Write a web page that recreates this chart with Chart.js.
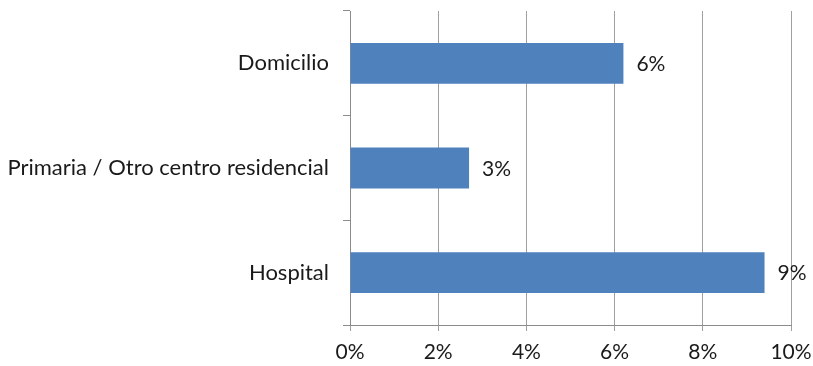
<!DOCTYPE html>
<html>
<head>
<meta charset="utf-8">
<script src="https://cdn.jsdelivr.net/npm/chart.js@4/dist/chart.umd.min.js"></script>
<style>
html,body{margin:0;padding:0;background:#fff;}
#wrap{width:813px;height:366px;position:relative;}
</style>
</head>
<body>
<div id="wrap"><canvas id="c" width="813" height="366"></canvas></div>
<script>
const categories = ["Domicilio", "Primaria / Otro centro residencial", "Hospital"];
const values = [6.2, 2.7, 9.4];
const valueLabels = ["6%", "3%", "9%"];
const xTicks = [0, 2, 4, 6, 8, 10];

const FONT = "Lato, 'Open Sans', sans-serif";

const labelPlugin = {
  id: 'barLabels',
  afterDatasetsDraw(chart) {
    const ctx = chart.ctx;
    const meta = chart.getDatasetMeta(0);
    ctx.save();
    ctx.font = "21px " + FONT;
    ctx.fillStyle = "#1a1a1a";
    ctx.textAlign = "left";
    ctx.textBaseline = "middle";
    meta.data.forEach((bar, i) => {
      ctx.fillText(valueLabels[i], bar.x + 13, bar.y + 1);
    });
    ctx.restore();
  }
};

new Chart(document.getElementById('c'), {
  type: 'bar',
  data: {
    labels: categories,
    datasets: [{
      data: values,
      backgroundColor: '#4f81bd',
      borderWidth: 0,
      barPercentage: 0.39,
      categoryPercentage: 1.0
    }]
  },
  options: {
    indexAxis: 'y',
    responsive: false,
    animation: false,
    layout: { padding: { left: 0, right: 22, top: 11, bottom: 0 } },
    plugins: { legend: { display: false }, tooltip: { enabled: false } },
    scales: {
      x: {
        min: 0, max: 10,
        afterBuildTicks(axis) { axis.ticks = xTicks.map(v => ({ value: v })); },
        afterFit(axis) { axis.height = 41; axis.paddingLeft = 0; axis.paddingRight = 0; },
        ticks: {
          callback: v => v + '%',
          font: { family: FONT, size: 21 },
          color: '#1a1a1a',
          padding: 9,
          maxRotation: 0
        },
        grid: { color: '#a0a0a0', lineWidth: 1, tickLength: 6, drawTicks: true },
        border: { color: '#8c8c8c' }
      },
      y: {
        afterFit(axis) { axis.width = 350; axis.paddingTop = 0; axis.paddingBottom = 0; },
        ticks: {
          font: { family: FONT, size: 22 },
          color: '#1a1a1a',
          padding: 14
        },
        grid: { offset: true, drawOnChartArea: false, color: '#8c8c8c', tickLength: 7 },
        border: { color: '#8c8c8c' }
      }
    }
  },
  plugins: [labelPlugin]
});
</script>
</body>
</html>
